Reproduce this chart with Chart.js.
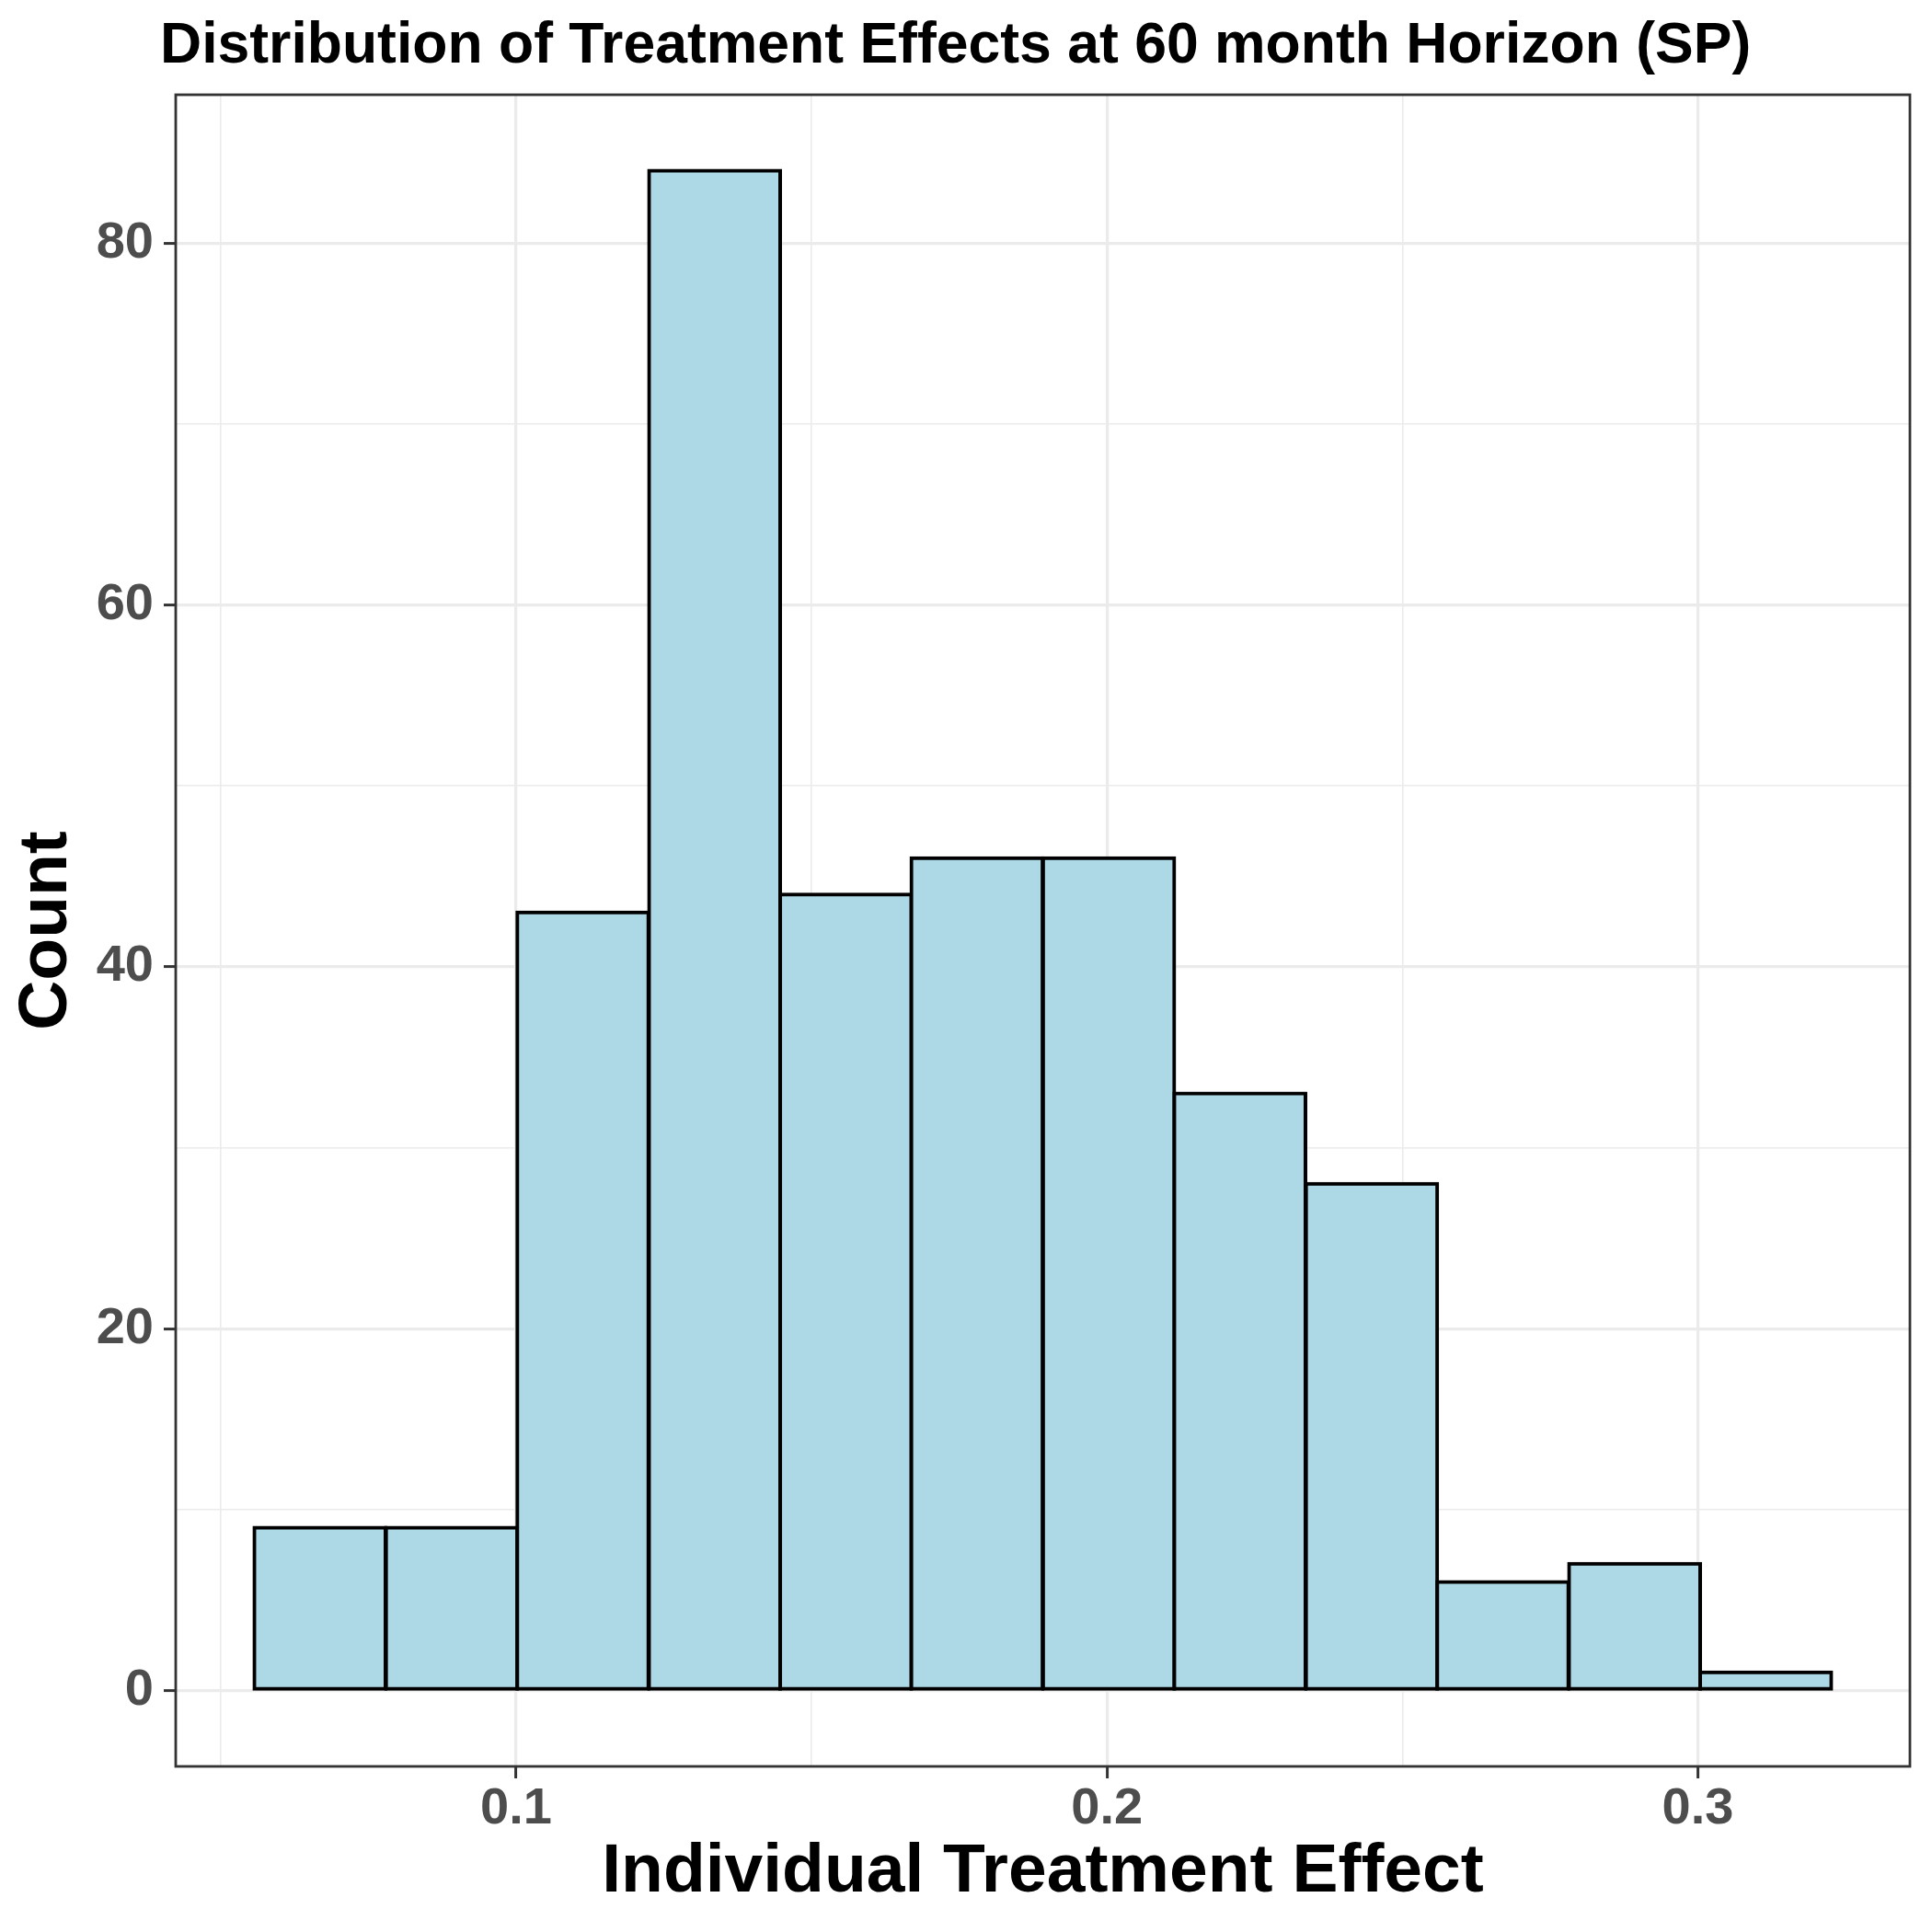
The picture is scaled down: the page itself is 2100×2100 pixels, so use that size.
<!DOCTYPE html>
<html>
<head>
<meta charset="utf-8">
<title>Distribution of Treatment Effects</title>
<script src="https://cdn.jsdelivr.net/npm/chart.js@4.4.1/dist/chart.umd.min.js"></script>
<style>
  html, body { margin: 0; padding: 0; background: #fff; }
  canvas { display: block; }
</style>
</head>
<body>
<canvas id="hist" width="2100" height="2100" style="width:2100px;height:2100px"></canvas>
<script>
// Data
const TITLE   = 'Distribution of Treatment Effects at 60 month Horizon (SP)';
const X_TITLE = 'Individual Treatment Effect';
const Y_TITLE = 'Count';

const binCenters = [0.0668, 0.0891, 0.1113, 0.1336, 0.1558, 0.1780, 0.2003, 0.2225, 0.2448, 0.2670, 0.2893, 0.3115];
const counts     = [9, 9, 43, 84, 44, 46, 46, 33, 28, 6, 7, 1];

const xMajor = [0.1, 0.2, 0.3];
const xMinor = [0.05, 0.15, 0.25];
const yMajor = [0, 20, 40, 60, 80];
const yMinor = [10, 30, 50, 70];

const X_MIN = 0.0424, X_MAX = 0.3359;
const Y_MIN = -4.2,   Y_MAX = 88.2;

// Style
const FONT = '"Liberation Sans", Arial, Helvetica, sans-serif';
const GRID = '#EBEBEB';
const AXIS = '#333333';
const TICK_TXT = '#4D4D4D';
const BAR_LINE = 4;

const merged = (a, b) => [...a, ...b].sort((p, q) => p - q).map(v => ({ value: v }));

function gridFor(major){
  return {
    offset: false,
    drawOnChartArea: true,
    color: GRID,
    lineWidth: c => major.includes(c.tick?.value) ? 3.2 : 1.6,
    tickColor: c => major.includes(c.tick?.value) ? AXIS : 'rgba(0,0,0,0)',
    tickWidth: 3,
    tickLength: 13
  };
}

// title + panel frame
const frame = {
  id: 'frame',
  afterDatasetsDraw(chart){
    const { ctx, chartArea: a } = chart;
    ctx.save();
    ctx.strokeStyle = AXIS;
    ctx.lineWidth = 2.8;
    ctx.strokeRect(a.left, a.top, a.right - a.left, a.bottom - a.top);
    ctx.restore();
  },
  afterDraw(chart){
    const ctx = chart.ctx;
    ctx.save();
    ctx.font = `bold 62.5px ${FONT}`;
    ctx.fillStyle = '#000';
    ctx.textAlign = 'left';
    ctx.textBaseline = 'alphabetic';
    ctx.fillText(TITLE, 174, 68);
    ctx.restore();
  }
};

new Chart(document.getElementById('hist'), {
  type: 'bar',
  data: {
    datasets: [{
      data: binCenters.map((x, i) => ({ x, y: counts[i] })),
      backgroundColor: '#ADD8E6',
      borderColor: '#000000',
      borderWidth: BAR_LINE,
      inflateAmount: BAR_LINE / 2,   // centre the outline on the bin edges, like ggplot
      borderSkipped: false,
      barPercentage: 1,
      categoryPercentage: 1
    }]
  },
  options: {
    responsive: false,
    devicePixelRatio: 1,
    animation: false,
    events: [],
    layout: { padding: { top: 103, right: 24, bottom: 0, left: 0 } },
    plugins: { legend: { display: false }, tooltip: { enabled: false }, title: { display: false } },
    scales: {
      x: {
        type: 'linear', min: X_MIN, max: X_MAX, offset: false,
        afterBuildTicks: s => { s.ticks = merged(xMinor, xMajor); },
        afterFit: s => { s.height = 180; s.paddingLeft = 0; s.paddingRight = 0; },
        ticks: {
          autoSkip: false, maxRotation: 0, padding: 0,
          color: TICK_TXT, font: { family: FONT, size: 56, weight: 'bold' },
          callback: v => xMajor.includes(v) ? String(v) : ''
        },
        grid: gridFor(xMajor),
        border: { display: false },
        title: {
          display: true, text: X_TITLE, color: '#000',
          font: { family: FONT, size: 75, weight: 'bold', lineHeight: 1.2 },
          padding: { top: 0, bottom: 20 }
        }
      },
      y: {
        type: 'linear', min: Y_MIN, max: Y_MAX,
        afterBuildTicks: s => { s.ticks = merged(yMinor, yMajor); },
        afterFit: s => { s.width = 191; s.paddingTop = 0; s.paddingBottom = 0; },
        ticks: {
          autoSkip: false, padding: 11,
          color: TICK_TXT, font: { family: FONT, size: 56, weight: 'bold' },
          callback: v => yMajor.includes(v) ? String(v) : ''
        },
        grid: gridFor(yMajor),
        border: { display: false },
        title: {
          display: true, text: Y_TITLE, color: '#000',
          font: { family: FONT, size: 75, weight: 'bold', lineHeight: 1.2 },
          padding: { top: 6, bottom: 0 }
        }
      }
    }
  },
  plugins: [frame]
});
</script>
</body>
</html>
